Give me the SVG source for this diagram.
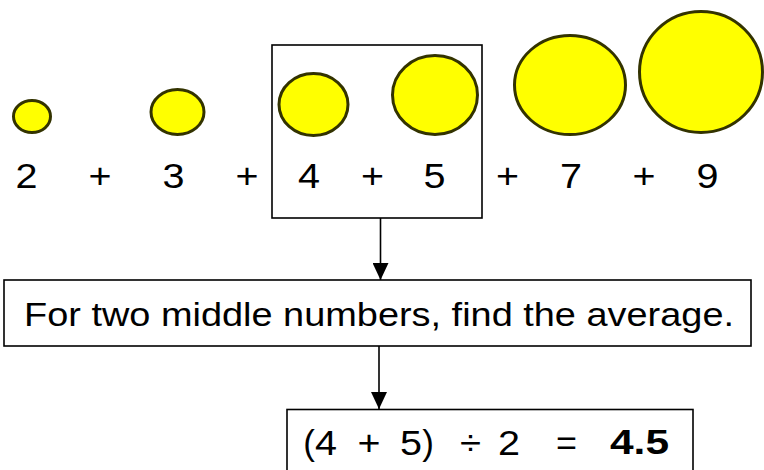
<svg xmlns="http://www.w3.org/2000/svg" width="764" height="470" viewBox="0 0 764 470">
<defs>
<style>
.ball{fill:#FFFF00;stroke:#333300;stroke-width:3}
.box{fill:none;stroke:#000;stroke-width:1.6}
.t{font-family:"Liberation Sans",Arial,sans-serif;font-size:35px;fill:#000;text-anchor:middle}
.s{font-family:"Liberation Sans",Arial,sans-serif;font-size:32.5px;fill:#000}
.b{font-weight:bold}
.edge{stroke:#000;stroke-width:1.6;fill:none}
</style>
<marker id="arr" viewBox="0 0 17 16" refX="17" refY="8" markerWidth="17" markerHeight="16" markerUnits="userSpaceOnUse" orient="auto">
<path d="M0,0 L17,8 L0,16 Z" fill="#000"/>
</marker>
</defs>
<rect width="764" height="470" fill="#fff"/>

<g id="balls">
<ellipse class="ball" cx="32" cy="116.5" rx="18.5" ry="16"/>
<ellipse class="ball" cx="177.5" cy="112" rx="26.5" ry="22.5"/>
<ellipse class="ball" cx="313.5" cy="104.5" rx="34.5" ry="31"/>
<ellipse class="ball" cx="435" cy="95" rx="42.5" ry="39.5"/>
<ellipse class="ball" cx="570" cy="85" rx="55.5" ry="49.5"/>
<ellipse class="ball" cx="701" cy="72" rx="61.5" ry="60.5"/>
</g>

<g id="numbers">
<text class="t" x="26.5" y="187.5" textLength="22" lengthAdjust="spacingAndGlyphs">2</text>
<text class="t" x="100" y="187.5" textLength="23" lengthAdjust="spacingAndGlyphs">+</text>
<text class="t" x="173.5" y="187.5" textLength="22" lengthAdjust="spacingAndGlyphs">3</text>
<text class="t" x="247" y="187.5" textLength="23" lengthAdjust="spacingAndGlyphs">+</text>
<text class="t" x="309" y="187.5" textLength="22" lengthAdjust="spacingAndGlyphs">4</text>
<text class="t" x="372.5" y="187.5" textLength="23" lengthAdjust="spacingAndGlyphs">+</text>
<text class="t" x="434.5" y="187.5" textLength="22" lengthAdjust="spacingAndGlyphs">5</text>
<text class="t" x="507.5" y="187.5" textLength="23" lengthAdjust="spacingAndGlyphs">+</text>
<text class="t" x="571" y="187.5" textLength="22" lengthAdjust="spacingAndGlyphs">7</text>
<text class="t" x="644" y="187.5" textLength="23" lengthAdjust="spacingAndGlyphs">+</text>
<text class="t" x="707.5" y="187.5" textLength="22" lengthAdjust="spacingAndGlyphs">9</text>
</g>

<g id="middle-box">
<rect class="box" x="272" y="45" width="210" height="173"/>
</g>

<g id="rule-box">
<rect class="box" x="4" y="280" width="747" height="66"/>
<text class="s" x="24" y="326" textLength="710" lengthAdjust="spacingAndGlyphs">For two middle numbers, find the average.</text>
</g>

<g id="result-box">
<rect class="box" x="287" y="409.5" width="406" height="70"/>
<text class="t" x="309" y="454.5">(</text>
<text class="t" x="326" y="454.5" textLength="22" lengthAdjust="spacingAndGlyphs">4</text>
<text class="t" x="369" y="454.5" textLength="23" lengthAdjust="spacingAndGlyphs">+</text>
<text class="t" x="411" y="454.5" textLength="22" lengthAdjust="spacingAndGlyphs">5</text>
<text class="t" x="428" y="454.5">)</text>
<text class="t" x="470.5" y="454.5" textLength="21" lengthAdjust="spacingAndGlyphs">÷</text>
<text class="t" x="509" y="454.5" textLength="22" lengthAdjust="spacingAndGlyphs">2</text>
<text class="t" x="566.5" y="454.5" textLength="21" lengthAdjust="spacingAndGlyphs">=</text>
<text class="t b" x="639.5" y="453.5" textLength="59" lengthAdjust="spacingAndGlyphs">4.5</text>
</g>

<g id="connectors">
<line class="edge" x1="380.5" y1="218" x2="380.5" y2="280" marker-end="url(#arr)"/>
<line class="edge" x1="379" y1="346" x2="379" y2="409" marker-end="url(#arr)"/>
</g>
</svg>
